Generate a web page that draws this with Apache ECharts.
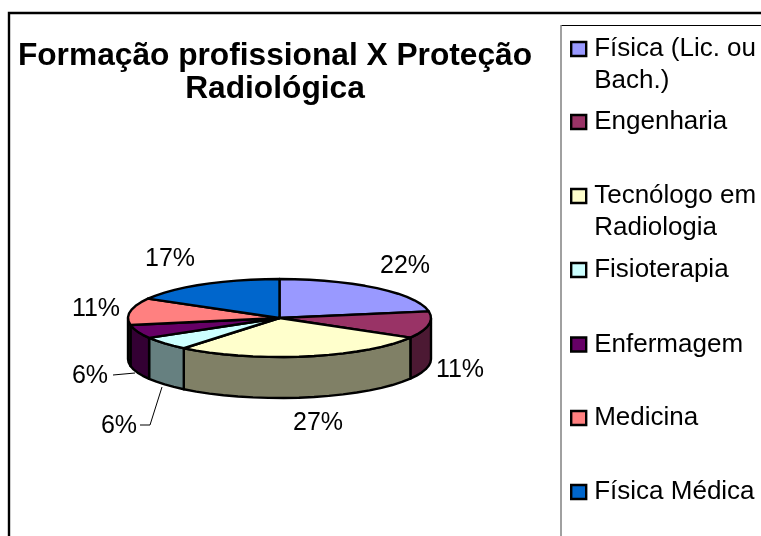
<!DOCTYPE html>
<html>
<head>
<meta charset="utf-8">
<style>
  html, body { margin: 0; padding: 0; background: #fff; }
  #main { width: 761px; height: 536px; }
</style>
<script src="https://cdn.jsdelivr.net/npm/echarts@6/dist/echarts.min.js"></script>
</head>
<body>
<div id="main"></div>
<script>
var categories = ['Física (Lic. ou\nBach.)', 'Engenharia', 'Tecnólogo em\nRadiologia', 'Fisioterapia', 'Enfermagem', 'Medicina', 'Física Médica'];
var values = [22.2, 11.1, 27.4, 5.6, 5.6, 11.1, 16.7];
var topColors = ['#9999FF', '#993366', '#FFFFCC', '#CCFFFF', '#660066', '#FF8080', '#0066CC'];
var sideColors = ['#4C4C80', '#4C1933', '#808066', '#668080', '#330033', '#804040', '#003366'];

// layout of the tilted pie
var cx = 279.5, cy = 318, rx = 151.5, ry = 39, depth = 41;
var fontName = '"Liberation Sans", Arial, sans-serif';
var labelPos = [[405, 266], [460, 370], [318, 423], [119, 426], [90, 376], [96, 309], [170, 259]];
var leaders = { 3: [[140, 425], [150, 425], [162, 387]], 4: [[113, 375], [135, 373]] };
var legendIconY = [49, 122, 196, 270, 344.5, 418, 492];

var total = values.reduce(function (a, b) { return a + b; }, 0);

function ellipsePoint(deg, dy) {
  var r = deg * Math.PI / 180;
  return [cx + rx * Math.sin(r), cy - ry * Math.cos(r) + dy];
}

function arcPoints(a0, a1, dy) {
  var pts = [];
  var n = Math.max(1, Math.ceil((a1 - a0) / 6));
  for (var i = 0; i <= n; i++) {
    pts.push(ellipsePoint(a0 + (a1 - a0) * i / n, dy));
  }
  return pts;
}

var acc = 0;
var series = categories.map(function (name, i) {
  var start = acc / total * 360;
  acc += values[i];
  var end = acc / total * 360;
  return {
    type: 'custom',
    name: name,
    coordinateSystem: 'none',
    itemStyle: { color: topColors[i] },
    data: [[start, end, values[i]]],
    renderItem: function (params, api) {
      var a0 = api.value(0), a1 = api.value(1);
      var children = [];
      // visible wall only on the front half
      var w0 = Math.max(a0, 90), w1 = Math.min(a1, 270);
      if (w1 > w0) {
        var wall = arcPoints(w0, w1, 0).concat(arcPoints(w0, w1, depth).reverse());
        children.push({
          type: 'polygon',
          shape: { points: wall },
          style: { fill: sideColors[i], stroke: '#000', lineWidth: 2.4, lineJoin: 'round' }
        });
      }
      children.push({
        type: 'polygon',
        shape: { points: [[cx, cy]].concat(arcPoints(a0, a1, 0)) },
        style: { fill: topColors[i], stroke: '#000', lineWidth: 2.4, lineJoin: 'round' }
      });
      if (leaders[i]) {
        children.push({
          type: 'polyline',
          shape: { points: leaders[i] },
          style: { fill: null, stroke: '#000', lineWidth: 1 }
        });
      }
      children.push({
        type: 'text',
        style: {
          text: Math.round(api.value(2) / total * 100) + '%',
          x: labelPos[i][0],
          y: labelPos[i][1],
          align: 'center',
          verticalAlign: 'middle',
          fontFamily: fontName,
          fontSize: 25,
          fill: '#000'
        }
      });
      return { type: 'group', children: children };
    }
  };
});

var legends = categories.map(function (name, i) {
  var twoLines = name.indexOf('\n') >= 0;
  return {
    data: [name],
    orient: 'vertical',
    left: 570,
    top: legendIconY[i] - (twoLines ? 48 : 16),
    padding: 0,
    itemWidth: 15,
    itemHeight: 14,
    icon: 'rect',
    selectedMode: false,
    itemStyle: { borderColor: '#000', borderWidth: 2.4 },
    // blank first line keeps the icon level with the first line of text
    formatter: function (n) { return twoLines ? '\n' + n : n; },
    textStyle: {
      fontFamily: fontName,
      fontSize: 26,
      color: '#000',
      lineHeight: 32,
      padding: [0, 0, 0, 3]
    }
  };
});

var chart = echarts.init(document.getElementById('main'), null, { renderer: 'canvas' });
chart.setOption({
  animation: false,
  backgroundColor: '#fff',
  title: {
    text: 'Formação profissional X Proteção\nRadiológica',
    left: 275,
    top: 40,
    textAlign: 'center',
    padding: 0,
    textStyle: {
      fontFamily: fontName,
      fontSize: 31.7,
      fontWeight: 'bold',
      color: '#000',
      lineHeight: 33
    }
  },
  legend: legends,
  graphic: [
    { type: 'rect', shape: { x: 9, y: 13, width: 780, height: 560 }, style: { fill: null, stroke: '#000', lineWidth: 2.4 }, silent: true },
    { type: 'line', shape: { x1: 561, y1: 25.5, x2: 761, y2: 25.5 }, style: { stroke: '#000', lineWidth: 1 }, silent: true },
    { type: 'line', shape: { x1: 561, y1: 25, x2: 561, y2: 536 }, style: { stroke: '#808080', lineWidth: 1.5 }, silent: true }
  ],
  series: series
});
</script>
</body>
</html>
